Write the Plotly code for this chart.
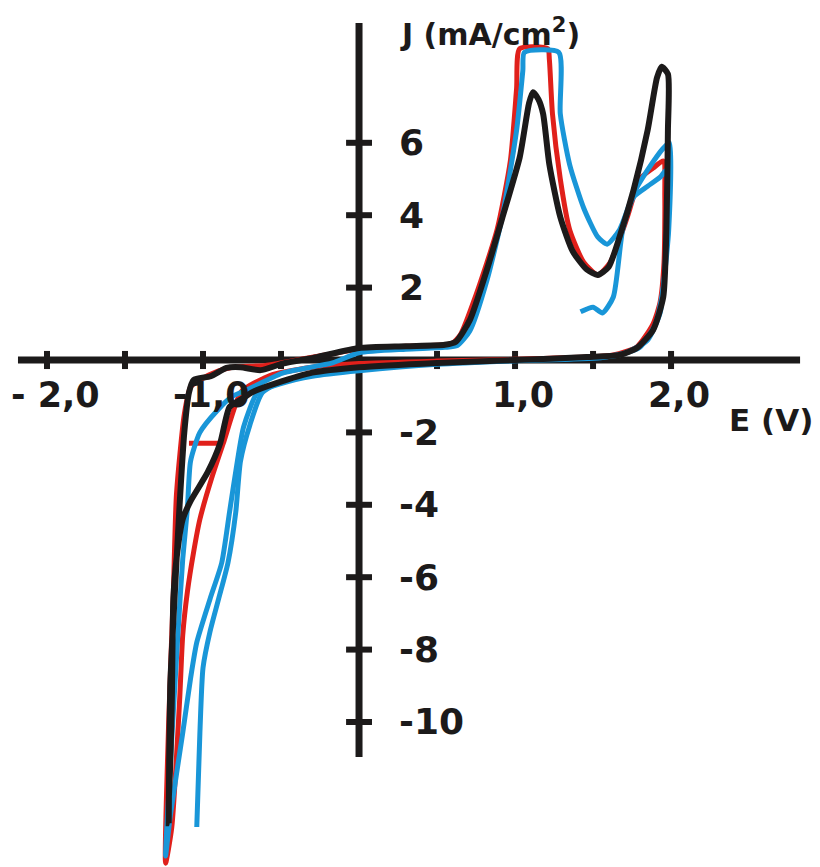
import plotly.graph_objects as go

# ---- data (E in V, J in mA/cm2) ----
red_E = [0.0, 0.3, 0.55, 0.6, 0.65, 0.75, 0.885, 0.97, 1.01, 1.03, 1.21, 1.22, 1.24, 1.29, 1.35, 1.44, 1.53, 1.61, 1.72, 1.8, 1.885, 1.95,
         1.96, 1.955, 1.93, 1.885, 1.78, 1.63, 1.45, 1.0, 0.5, 0.0, -0.3, -0.55, -0.7, -0.76, -0.87, -0.94, -1.02, -1.06, -1.1, -1.13, -1.15, -1.2, -1.24,
         -1.22, -1.19, -1.17, -1.12, -1.08, -1.02, -0.9, -0.81, -0.6, -0.4, -0.2, 0.0, None, -1.09, -0.88]
red_J = [0.3, 0.38, 0.42, 0.47, 0.7, 1.8, 3.6, 5.5, 7.5, 8.6, 8.6, 8.3, 6.8, 5.0, 3.6, 2.7, 2.35, 2.7, 3.95, 5.0, 5.3, 5.5,
         4.5, 2.7, 1.6, 1.0, 0.36, 0.14, 0.08, 0.02, -0.03, -0.1, -0.2, -0.4, -0.7, -0.9, -2.3, -3.2, -4.4, -5.3, -6.4, -7.6, -9.4, -12.9, -13.9,
         -10.0, -6.4, -3.7, -1.5, -0.75, -0.55, -0.3, -0.2, -0.15, 0.0, 0.15, 0.3, None, -2.3, -2.3]

blue1_E = [0.0, 0.3, 0.55, 0.63, 0.71, 0.82, 0.92, 1.01, 1.05, 1.06, 1.28, 1.29, 1.35, 1.44, 1.53, 1.59, 1.67, 1.76, 1.85, 1.95, 1.99,
           1.985, 1.95, 1.93, 1.85, 1.72, 1.55, 1.0, 0.5, 0.0, -0.3, -0.5, -0.65, -0.74, -0.78, -0.83, -0.88, -0.955, -1.04, -1.08, -1.13, -1.21, -1.24,
           -1.21, -1.16, -1.13, -1.1, -1.08, -1.02, -0.91, -0.81, -0.72, -0.49, -0.17, 0.0]
blue1_J = [0.2, 0.3, 0.35, 0.4, 0.8, 2.2, 4.0, 6.35, 8.0, 8.5, 8.5, 6.8, 5.4, 4.2, 3.4, 3.2, 3.6, 4.6, 5.25, 5.85, 6.0,
           3.6, 2.0, 1.3, 0.55, 0.22, 0.06, -0.02, -0.12, -0.3, -0.45, -0.65, -0.9, -1.85, -2.8, -4.2, -5.6, -6.6, -7.8, -8.8, -10.3, -12.6, -13.7,
           -11.2, -7.5, -5.5, -4.1, -2.8, -2.0, -1.4, -1.0, -0.83, -0.36, -0.08, 0.2]

blue2_E = [1.42, 1.5, 1.56, 1.63, 1.69, 1.76, 1.85, 1.93, 1.97, 1.97, 1.95, 1.9, 1.8, 1.65, 1.4, 1.0, 0.5, 0.0, -0.3, -0.5, -0.62,
           -0.7, -0.76, -0.79, -0.84, -0.9, -0.955, -1.0, -1.02, -1.04]
blue2_J = [1.33, 1.46, 1.3, 1.74, 3.6, 4.5, 4.8, 5.05, 5.25, 3.5, 2.0, 1.0, 0.35, 0.12, 0.05, 0.0, -0.1, -0.25, -0.4, -0.6, -0.9,
           -1.8, -2.8, -4.2, -5.6, -6.6, -7.5, -8.5, -10.3, -12.9]

black_E = [-0.27, 0.0, 0.3, 0.55, 0.62, 0.71, 0.82, 0.92, 1.03, 1.09, 1.115, 1.15, 1.18, 1.22, 1.29, 1.37, 1.46, 1.53, 1.6, 1.67, 1.76, 1.85, 1.91, 1.94, 1.98,
           1.98, 1.97, 1.95, 1.885, 1.78, 1.67, 1.46, 1.0, 0.5, 0.0, -0.3, -0.53, -0.68, -0.76, -0.83, -0.89, -0.97, -1.08, -1.13, -1.17, -1.19, -1.2, -1.22,
           -1.21, -1.19, -1.15, -1.12, -1.09, -1.06, -0.95, -0.85, -0.76, -0.63, -0.49, -0.27]
black_J = [0.08, 0.33, 0.38, 0.42, 0.5, 1.1, 2.5, 3.95, 5.6, 7.1, 7.4, 7.2, 6.8, 5.4, 3.95, 3.0, 2.5, 2.35, 2.57, 3.4, 4.7, 6.35, 7.8, 8.1, 7.9,
           6.35, 3.6, 1.74, 0.83, 0.33, 0.14, 0.08, 0.0, -0.08, -0.2, -0.35, -0.64, -0.88, -1.1, -1.3, -2.3, -3.1, -3.9, -4.4, -5.5, -6.6, -9.4, -12.8,
           -9.0, -7.2, -4.0, -2.0, -0.9, -0.55, -0.45, -0.22, -0.2, -0.28, -0.1, 0.08]

x_ticks = [-2.0, -1.5, -1.0, -0.5, 0.5, 1.0, 1.5, 2.0]
x_label_vals = [-2.0, -1.0, 1.0, 2.0]
x_label_text = ["- 2,0", "-1,0", "1,0", "2,0"]
y_ticks = [6, 4, 2, -2, -4, -6, -8, -10]
y_label_text = ["6", "4", "2", "-2", "-4", "-6", "-8", "-10"]

AX = "#1c1a1a"
FONT = "DejaVu Sans"
LS = dict(shape="spline", smoothing=0.6)

fig = go.Figure()
fig.add_trace(go.Scatter(x=red_E, y=red_J, mode="lines", line=dict(color="#e0201b", width=5, **LS), connectgaps=False))
fig.add_trace(go.Scatter(x=blue1_E, y=blue1_J, mode="lines", line=dict(color="#1996d8", width=5, **LS)))
fig.add_trace(go.Scatter(x=blue2_E, y=blue2_J, mode="lines", line=dict(color="#1996d8", width=5, **LS)))
fig.add_trace(go.Scatter(x=black_E, y=black_J, mode="lines", line=dict(color=AX, width=6, **LS)))

shapes = []
# axes
shapes.append(dict(type="line", x0=-2.186, x1=2.827, y0=0, y1=0, line=dict(color=AX, width=7), layer="below"))
shapes.append(dict(type="line", x0=0, x1=0, y0=-10.97, y1=9.31, line=dict(color=AX, width=7), layer="below"))
for t in x_ticks:
    shapes.append(dict(type="line", x0=t, x1=t, y0=-0.25, y1=0.25, line=dict(color=AX, width=6), layer="below"))
for t in y_ticks:
    shapes.append(dict(type="line", x0=-0.083, x1=0.083, y0=t, y1=t, line=dict(color=AX, width=6), layer="below"))

ann = []
for v, s in zip(x_label_vals, x_label_text):
    ann.append(dict(x=v, y=-0.97, text=s, showarrow=False, xanchor="center", yanchor="middle", xshift=8,
                    font=dict(family=FONT, size=35, color=AX, weight="bold")))
for v, s in zip(y_ticks, y_label_text):
    ann.append(dict(x=0.244, y=v, text=s, showarrow=False, xanchor="left", yanchor="middle",
                    font=dict(family=FONT, size=36, color=AX, weight="bold")))
ann.append(dict(x=2.64, y=-1.66, text="E (V)", showarrow=False, xanchor="center", yanchor="middle",
                font=dict(family=FONT, size=31, color=AX, weight="bold")))
ann.append(dict(x=0.25, y=9.06, text="J (mA/cm<sup>2</sup>)", showarrow=False, xanchor="left", yanchor="middle",
                font=dict(family=FONT, size=30, color=AX, weight="bold")))

# ranges compensate for the 8px page margin around the figure
fig.update_layout(
    width=820, height=867, margin=dict(l=0, r=0, t=0, b=0),
    paper_bgcolor="white", plot_bgcolor="white", showlegend=False,
    xaxis=dict(range=[-2.25, 3.006], visible=False, fixedrange=True),
    yaxis=dict(range=[-14.227, 9.724], visible=False, fixedrange=True),
    shapes=shapes, annotations=ann,
)
fig.write_html("out.html")
